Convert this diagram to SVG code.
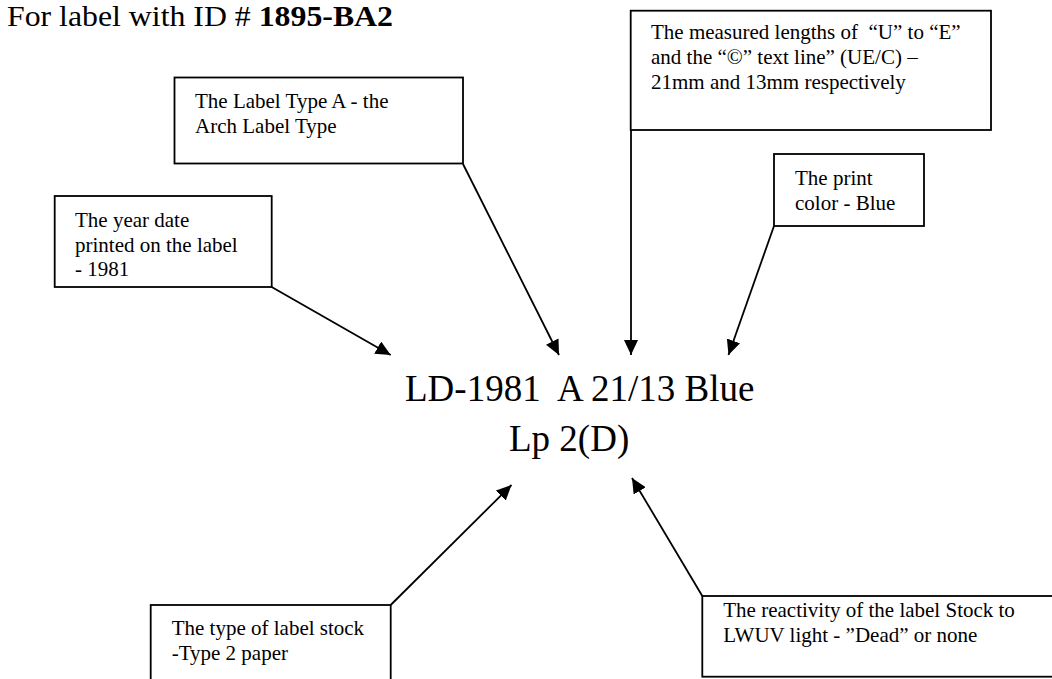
<svg xmlns="http://www.w3.org/2000/svg" width="1052" height="679" viewBox="0 0 1052 679">
<style>
  .box { fill: #fff; stroke: #000; stroke-width: 1.8; }
  .t { font-family: "Liberation Serif", "Times New Roman", serif; font-size: 21px; fill: #000; white-space: pre; }
  .title { font-family: "Liberation Serif", "Times New Roman", serif; font-size: 29px; fill: #000; white-space: pre; }
  .main { font-family: "Liberation Serif", "Times New Roman", serif; font-size: 37px; fill: #000; white-space: pre; }
  .conn { stroke: #000; stroke-width: 1.8; fill: none; }
</style>
<defs>
  <marker id="arrow" viewBox="0 0 15 14" refX="15" refY="7" markerWidth="15" markerHeight="14" markerUnits="userSpaceOnUse" orient="auto">
    <path d="M0,0 L15,7 L0,14 Z" fill="#000"/>
  </marker>
</defs>
<rect x="0" y="0" width="1052" height="679" fill="#fff"/>

<text id="title" class="title" x="7" y="26" textLength="386" lengthAdjust="spacingAndGlyphs" xml:space="preserve">For label with ID # <tspan font-weight="bold">1895-BA2</tspan></text>

<g id="center-label">
  <text class="main" x="405" y="401" xml:space="preserve">LD-1981  A 21/13 Blue</text>
  <text class="main" x="509" y="451" xml:space="preserve">Lp 2(D)</text>
</g>

<g id="connectors">
  <line class="conn" x1="271.7" y1="287" x2="390.7" y2="355" marker-end="url(#arrow)"/>
  <line class="conn" x1="463" y1="164" x2="559" y2="355" marker-end="url(#arrow)"/>
  <line class="conn" x1="631" y1="130" x2="631" y2="355" marker-end="url(#arrow)"/>
  <line class="conn" x1="774" y1="226" x2="728.5" y2="355" marker-end="url(#arrow)"/>
  <line class="conn" x1="390.7" y1="605" x2="511.5" y2="485" marker-end="url(#arrow)"/>
  <line class="conn" x1="702.3" y1="596" x2="632" y2="478" marker-end="url(#arrow)"/>
</g>

<g id="node-type-a">
  <rect class="box" x="174.5" y="77.5" width="288.5" height="86"/>
  <text class="t" x="195" y="108">The Label Type A - the</text>
  <text class="t" x="195" y="132.5">Arch Label Type</text>
</g>

<g id="node-year">
  <rect class="box" x="54.7" y="196" width="217" height="91"/>
  <text class="t" x="75" y="226.7">The year date</text>
  <text class="t" x="75" y="251.5">printed on the label</text>
  <text class="t" x="75" y="276">- 1981</text>
</g>

<g id="node-lengths">
  <rect class="box" x="630.7" y="10.7" width="360.3" height="119.3"/>
  <text class="t" x="651" y="39.3" xml:space="preserve">The measured lengths of  “U” to “E”</text>
  <text class="t" x="651" y="64.3" xml:space="preserve">and the “©” text line” (UE/C) –</text>
  <text class="t" x="651" y="89.3">21mm and 13mm respectively</text>
</g>

<g id="node-color">
  <rect class="box" x="774" y="154" width="150" height="72"/>
  <text class="t" x="795" y="185">The print</text>
  <text class="t" x="795" y="210">color - Blue</text>
</g>

<g id="node-stock">
  <rect class="box" x="150.7" y="605" width="240" height="90"/>
  <text class="t" x="171.7" y="635">The type of label stock</text>
  <text class="t" x="171.7" y="660">-Type 2 paper</text>
</g>

<g id="node-reactivity">
  <rect class="box" x="702.3" y="596" width="360" height="80.7"/>
  <text class="t" x="723.3" y="616.7">The reactivity of the label Stock to</text>
  <text class="t" x="723.3" y="641.7">LWUV light - ”Dead” or none</text>
</g>
</svg>
